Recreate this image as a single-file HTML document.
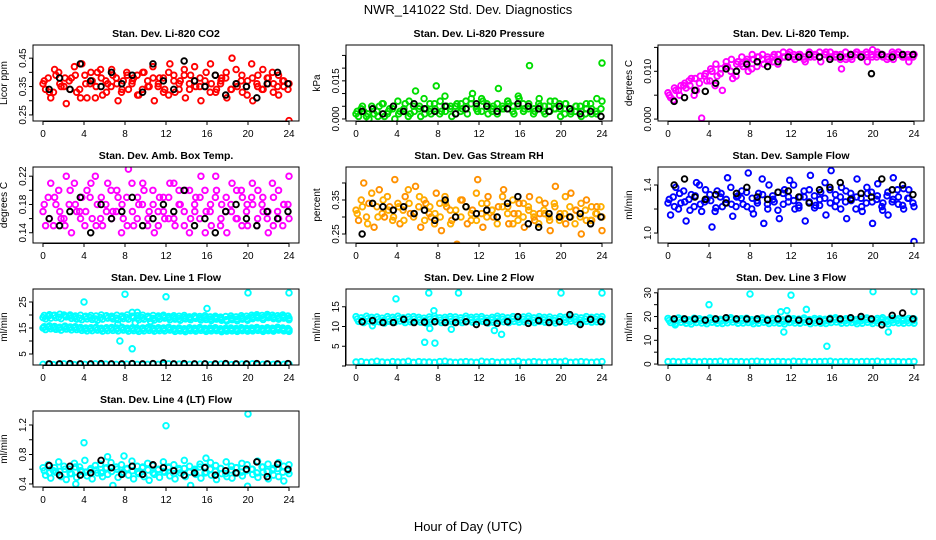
<!DOCTYPE html>
<html><head><meta charset="utf-8"><style>
body{margin:0;background:#fff;}
svg{display:block;font-family:"Liberation Sans",sans-serif;}
</style></head><body>
<svg id="c" width="936" height="540" viewBox="0 0 936 540">
<text x="468" y="14" text-anchor="middle" font-size="13">NWR_141022  Std. Dev. Diagnostics</text>
<text x="468" y="531" text-anchor="middle" font-size="13">Hour of Day (UTC)</text>
</svg>
<script>
const hourTicks=[0,4,8,12,16,20,24];
const low=[1.0,1.1,0.9,1.0,1.2,1.0,0.9,1.1,1.0,1.0,1.2,0.9,1.1,1.0,1.0,0.9,1.1,1.2,1.0,0.9,1.0,1.1,1.0,0.9,1.2,1.0,1.1,0.9,1.0,1.0,1.1,1.2,0.9,1.0,1.1,1.0,0.9,1.0,1.1,1.0,1.2,0.9,1.0,1.1,1.0,0.9,1.0,1.1];
// Panel 1 CO2
const co2A=[0.36,0.38,0.33,0.40,0.35,0.37,0.42,0.34,0.39,0.36,0.31,0.41,0.37,0.35,0.38,0.33,0.40,0.36,0.39,0.34,0.37,0.42,0.35,0.38,0.32,0.39,0.36,0.41,0.34,0.37,0.38,0.35,0.43,0.33,0.37,0.40,0.34,0.36,0.39,0.32,0.38,0.35,0.41,0.36,0.33,0.39,0.37,0.36];
const co2B=[0.34,0.31,0.39,0.35,0.29,0.38,0.33,0.43,0.31,0.37,0.40,0.32,0.36,0.39,0.30,0.37,0.34,0.38,0.32,0.40,0.35,0.30,0.38,0.34,0.43,0.33,0.37,0.31,0.39,0.35,0.30,0.40,0.36,0.34,0.38,0.31,0.45,0.35,0.33,0.37,0.30,0.39,0.34,0.38,0.36,0.32,0.35,0.23];
const co2C=[0.37,0.33,0.41,0.36,0.38,0.34,0.39,0.31,0.36,0.40,0.35,0.38,0.33,0.41,0.36,0.34,0.39,0.37,0.32,0.40,0.35,0.38,0.36,0.33,0.40,0.37,0.34,0.39,0.36,0.42,0.35,0.37,0.33,0.39,0.36,0.38,0.34,0.41,0.37,0.35,0.43,0.36,0.34,0.38,0.40,0.35,0.37,0.34];
const co2Black=[0.34,0.38,0.34,0.43,0.37,0.35,0.40,0.36,0.39,0.33,0.43,0.37,0.34,0.44,0.37,0.35,0.39,0.32,0.36,0.35,0.31,0.36,0.40,0.36];
// Panel 2 pressure
const prA=[0.002,0.004,0.001,0.005,0.003,0.006,0.002,0.004,0.007,0.003,0.001,0.005,0.004,0.008,0.003,0.006,0.002,0.009,0.004,0.005,0.003,0.007,0.006,0.004,0.008,0.005,0.003,0.006,0.004,0.007,0.005,0.009,0.003,0.006,0.004,0.008,0.005,0.003,0.007,0.004,0.006,0.002,0.005,0.003,0.006,0.004,0.002,0.007];
const prB=[0.001,0.003,0.000,0.002,0.005,0.001,0.004,0.000,0.003,0.006,0.002,0.011,0.001,0.004,0.002,0.013,0.003,0.005,0.001,0.006,0.004,0.002,0.010,0.003,0.007,0.002,0.005,0.012,0.004,0.006,0.002,0.008,0.004,0.021,0.003,0.005,0.002,0.007,0.004,0.001,0.006,0.003,0.005,0.001,0.004,0.002,0.008,0.022];
const prC=[0.003,0.005,0.002,0.004,0.001,0.006,0.003,0.005,0.002,0.004,0.007,0.003,0.005,0.002,0.006,0.004,0.007,0.003,0.005,0.002,0.006,0.004,0.008,0.005,0.003,0.006,0.004,0.002,0.005,0.007,0.003,0.005,0.006,0.004,0.002,0.006,0.003,0.005,0.004,0.006,0.002,0.004,0.003,0.005,0.002,0.006,0.003,0.004];
const prBlack=[0.003,0.004,0.002,0.005,0.003,0.006,0.004,0.003,0.005,0.002,0.004,0.006,0.005,0.003,0.004,0.006,0.005,0.004,0.003,0.005,0.004,0.002,0.003,0.001];
// Panel 3 temp
const tmA=[0.0055,0.004,0.006,0.007,0.008,0.005,0.0075,0.009,0.008,0.007,0.0095,0.011,0.010,0.009,0.0115,0.012,0.0105,0.011,0.0125,0.013,0.012,0.0115,0.013,0.0135,0.013,0.0135,0.013,0.014,0.0135,0.013,0.0135,0.014,0.013,0.0135,0.0125,0.0135,0.014,0.013,0.0135,0.013,0.014,0.0135,0.013,0.0135,0.014,0.0135,0.013,0.0135];
const tmB=[0.0045,0.006,0.007,0.0065,0.0085,0.006,0.0002,0.008,0.010,0.009,0.006,0.011,0.0085,0.012,0.011,0.010,0.0125,0.013,0.0115,0.012,0.0135,0.0125,0.013,0.014,0.0125,0.0135,0.012,0.013,0.0135,0.012,0.014,0.013,0.0135,0.0105,0.013,0.0125,0.014,0.0135,0.012,0.0145,0.0135,0.013,0.013,0.0125,0.014,0.013,0.012,0.0135];
const tmC=[0.005,0.0065,0.005,0.0075,0.007,0.0085,0.009,0.0095,0.0105,0.0115,0.0105,0.012,0.0125,0.0115,0.013,0.0125,0.0135,0.013,0.0135,0.0125,0.013,0.0135,0.014,0.013,0.0135,0.013,0.0125,0.0135,0.013,0.014,0.0135,0.013,0.0135,0.0125,0.014,0.013,0.0135,0.013,0.014,0.0135,0.013,0.0135,0.0125,0.014,0.0135,0.013,0.0135,0.013];
const tmBlack=[0.0037,0.0045,0.006,0.0058,0.0075,0.0105,0.010,0.0115,0.012,0.011,0.012,0.013,0.013,0.0135,0.013,0.0125,0.013,0.0135,0.013,0.0095,0.0135,0.013,0.0135,0.0135];
// Panel 4 ambient
const abA=[0.17,0.19,0.15,0.20,0.16,0.18,0.21,0.17,0.15,0.19,0.22,0.16,0.18,0.20,0.17,0.14,0.19,0.21,0.16,0.18,0.15,0.20,0.17,0.19,0.16,0.21,0.18,0.15,0.20,0.17,0.19,0.14,0.18,0.22,0.16,0.19,0.17,0.20,0.15,0.18,0.21,0.16,0.19,0.17,0.15,0.20,0.18,0.16];
const abB=[0.15,0.21,0.18,0.16,0.22,0.14,0.17,0.19,0.20,0.16,0.18,0.15,0.21,0.17,0.19,0.16,0.23,0.15,0.18,0.20,0.17,0.14,0.19,0.16,0.21,0.15,0.18,0.20,0.16,0.19,0.22,0.17,0.15,0.20,0.18,0.14,0.21,0.16,0.19,0.15,0.18,0.20,0.17,0.14,0.19,0.16,0.18,0.22];
const abC=[0.18,0.16,0.19,0.17,0.15,0.20,0.18,0.16,0.17,0.21,0.15,0.19,0.17,0.16,0.20,0.18,0.15,0.17,0.19,0.21,0.16,0.18,0.15,0.17,0.19,0.16,0.20,0.17,0.14,0.18,0.16,0.20,0.17,0.19,0.15,0.17,0.18,0.16,0.20,0.17,0.19,0.15,0.18,0.16,0.21,0.17,0.15,0.18];
const abBlack=[0.16,0.15,0.17,0.19,0.14,0.18,0.16,0.17,0.19,0.15,0.16,0.18,0.17,0.20,0.15,0.16,0.14,0.17,0.18,0.16,0.15,0.17,0.16,0.17];
// Panel 5 RH
const rhA=[0.32,0.35,0.30,0.37,0.33,0.31,0.36,0.29,0.34,0.32,0.38,0.30,0.33,0.35,0.31,0.28,0.34,0.36,0.32,0.30,0.35,0.33,0.29,0.37,0.31,0.34,0.32,0.30,0.36,0.33,0.28,0.31,0.34,0.32,0.30,0.35,0.31,0.29,0.33,0.31,0.36,0.30,0.32,0.34,0.29,0.33,0.31,0.30];
const rhB=[0.29,0.40,0.34,0.27,0.38,0.30,0.33,0.41,0.28,0.36,0.31,0.39,0.27,0.34,0.30,0.37,0.26,0.33,0.29,0.22,0.35,0.28,0.32,0.41,0.27,0.36,0.30,0.33,0.38,0.28,0.31,0.34,0.27,0.36,0.29,0.31,0.34,0.26,0.39,0.30,0.28,0.37,0.32,0.25,0.35,0.29,0.33,0.26];
const rhC=[0.31,0.33,0.28,0.34,0.30,0.35,0.32,0.30,0.33,0.29,0.34,0.31,0.36,0.29,0.33,0.31,0.30,0.34,0.28,0.32,0.30,0.33,0.31,0.29,0.34,0.30,0.32,0.28,0.33,0.31,0.35,0.29,0.30,0.33,0.31,0.28,0.32,0.30,0.34,0.29,0.31,0.33,0.28,0.30,0.32,0.29,0.31,0.33];
const rhBlack=[0.25,0.34,0.33,0.32,0.33,0.31,0.32,0.29,0.35,0.30,0.33,0.31,0.32,0.30,0.34,0.36,0.28,0.27,0.31,0.30,0.30,0.31,0.28,0.30];
// Panel 6 sample flow
const sfA=[1.25,1.30,1.20,1.35,1.28,1.22,1.40,1.26,1.32,1.18,1.30,1.25,1.38,1.22,1.29,1.34,1.20,1.27,1.45,1.24,1.31,1.19,1.33,1.26,1.40,1.23,1.30,1.36,1.21,1.28,1.42,1.25,1.32,1.20,1.35,1.27,1.30,1.22,1.38,1.26,1.31,1.19,1.34,1.28,1.24,1.37,1.29,1.22];
const sfB=[1.15,1.38,1.25,1.10,1.32,1.42,1.18,1.28,1.05,1.35,1.22,1.46,1.14,1.31,1.24,1.50,1.16,1.33,1.08,1.40,1.26,1.12,1.36,1.44,1.20,1.30,1.10,1.48,1.23,1.34,1.15,1.52,1.27,1.38,1.12,1.29,1.45,1.18,1.33,1.08,1.41,1.25,1.15,1.46,1.30,1.20,1.36,0.93];
const sfC=[1.28,1.22,1.33,1.26,1.19,1.31,1.24,1.36,1.27,1.21,1.33,1.28,1.24,1.30,1.35,1.22,1.29,1.25,1.32,1.20,1.28,1.34,1.24,1.30,1.27,1.21,1.35,1.26,1.31,1.23,1.29,1.36,1.22,1.30,1.26,1.33,1.20,1.29,1.25,1.34,1.28,1.22,1.31,1.26,1.36,1.23,1.29,1.25];
const sfBlack=[1.40,1.45,1.30,1.28,1.32,1.25,1.33,1.38,1.30,1.28,1.34,1.35,1.30,1.25,1.36,1.38,1.42,1.28,1.33,1.30,1.45,1.36,1.40,1.32];
// Panel 7 line 1
const l1UpA=[19,19.5,19.8,19.2,20,19.5,19,18.8,19.2,19,18.5,19,19.5,19,18.8,19.2,19,19.5,18.8,19,19.3,18.7,19,19.4,18.9,19,18.6,19.1,18.8,19.3,18.7,19,18.5,19,18.6,18.2,18.8,18.4,19,18.6,19.2,19.5,19,19.6,19.2,19,19.4,18.8];
const l1UpB=[18.5,18.8,19,18.6,19.3,18.7,18.4,18.2,18.5,18.3,18,18.4,18.8,18.5,18.2,18.6,18.4,18.9,18.2,18.4,18.7,18.1,18.4,18.8,18.2,18.4,18,18.5,18.2,18.7,18.1,18.3,17.9,18.4,18,17.7,18.2,17.8,18.4,18,18.6,18.9,18.3,19,18.6,18.4,18.8,18.2];
const l1UpC=[19.8,20.1,19.9,20.3,19.7,20,19.6,19.9,19.5,19.8,19.6,20,19.7,19.5,19.9,19.6,20,19.4,19.7,19.9,19.5,19.8,19.6,19.9,19.4,19.7,19.5,19.8,19.3,19.6,19.4,19.7,19.3,19.5,19.2,19.4,19.6,19.3,19.7,19.5,19.9,20.1,19.8,20.2,19.9,19.7,20,19.6];
const l1MidA=[15,15.3,15.1,14.8,15.2,14.9,15,14.7,14.5,14.6,14.8,14.4,14.6,14.7,14.5,14.8,14.4,14.6,14.3,14.5,14.7,14.4,14.6,14.5,14.8,14.3,14.5,14.2,14.6,14.4,14.7,14.3,14.5,14.6,14.2,14.4,14.5,14.3,14.6,14.4,14.5,14.7,14.3,14.6,14.4,14.8,14.5,14.3];
const l1MidB=[14.4,14.7,14.5,14.2,14.6,14.3,14.4,14.1,13.9,14,14.2,13.8,14,14.1,13.9,14.2,13.8,14,13.7,13.9,14.1,13.8,14,13.9,14.2,13.7,13.9,13.6,14,13.8,14.1,13.7,13.9,14,13.6,13.8,13.9,13.7,14,13.8,13.9,14.1,13.7,14,13.8,14.2,13.9,13.7];
const l1MidC=[15.5,15.8,15.6,15.3,15.7,15.4,15.5,15.2,15,15.1,15.3,14.9,15.1,15.2,15,15.3,14.9,15.1,14.8,15,15.2,14.9,15.1,15,15.3,14.8,15,14.7,15.1,14.9,15.2,14.8,15,15.1,14.7,14.9,15,14.8,15.1,14.9,15,15.2,14.8,15.1,14.9,15.3,15,14.8];
const l1OutHours=[4,8,7.5,8.7,12,16,20,24,8.7,9.2,7.3,9,10.5];
const l1OutVals=[25,28,10,7,27,22.5,28.5,28.5,21,21,16.5,17,17.5];
const l1Black=[1.2,1.2,1.3,1.2,1.2,1.3,1.2,1.2,1.3,1.2,1.3,1.6,1.2,1.3,1.2,1.2,1.2,1.3,1.2,1.2,1.3,1.2,1.2,1.3];
// Panel 8 line 2
const l2A=[12.5,12.2,12.6,12.3,12.4,12.1,12.5,12.3,12.6,12.2,12.4,12.5,12.3,12.1,12.4,12.6,12.2,12.3,12.5,12.4,12.2,12.6,12.3,12.4,12.5,12.1,12.3,12.6,12.4,12.2,12.5,12.3,12.4,12.6,12.2,12.5,12.3,12.4,12.1,12.5,12.3,12.6,12.4,12.2,12.5,12.3,12.4,12.5];
const l2B=[11.3,11.0,11.4,11.1,11.2,10.9,11.3,11.1,11.4,11.0,11.2,11.3,11.1,10.9,11.2,11.4,11.0,11.1,11.3,11.2,11.0,11.4,11.1,11.2,11.3,10.9,11.1,11.4,11.2,11.0,11.3,11.1,11.2,11.4,11.0,11.3,11.1,11.2,10.9,11.3,11.1,11.4,11.2,11.0,11.3,11.1,11.2,11.3];
const l2C=[11.9,11.6,12,11.7,11.8,11.5,11.9,11.7,12,11.6,11.8,11.9,11.7,11.5,11.8,12,11.6,11.7,11.9,11.8,11.6,12,11.7,11.8,11.9,11.5,11.7,12,11.8,11.6,11.9,11.7,11.8,12,11.6,11.9,11.7,11.8,11.5,11.9,11.7,12,11.8,11.6,11.9,11.7,11.8,11.9];
const l2Low=[1.0,1.1,0.9,1.0,1.2,1.0,0.9,1.1,1.0,1.0,1.2,0.9,1.1,1.0,1.0,0.9,1.1,1.2,1.0,0.9,1.0,1.1,1.0,0.9,1.2,1.0,1.1,0.9,1.0,1.0,1.1,1.2,0.9,1.0,1.1,1.0,0.9,1.0,1.1,1.0,1.2,0.9,1.0,1.1,1.0,0.9,1.0,1.1];
const l2OutHours=[3.9,6.7,7.1,7.2,7.7,7.6,10,13.5,14.2,20,24,1.6,9.3];
const l2OutVals=[17,6,18.5,9.5,5.8,14,18.5,9,8,18.5,18.5,10.2,9.3];
const l2Black=[11.2,11.5,11,11,11.8,11,11.1,11.2,11,11,11.2,10.5,11,10.8,11.2,12.5,10.8,11.5,11,11.2,13,10.5,11.8,11.2];
// Panel 9 line 3
const l3A=[19.2,18.8,19.4,19,18.6,19.3,19.1,18.7,19.4,19,18.8,19.2,19.5,18.9,19.1,19.3,18.7,19,19.4,18.8,19.2,19,18.6,19.3,19.1,18.9,19.4,18.7,19.2,19,18.8,19.3,19.5,18.9,19.1,19.3,18.7,19,19.4,18.8,19.2,19.5,18.6,19.3,19.1,18.9,19.2,19];
const l3B=[17.5,17.1,17.6,17.2,16.9,17.5,17.3,17,17.6,17.2,17.1,17.4,17.7,17.2,17.3,17.5,17,17.2,17.6,17.1,17.4,17.2,16.9,17.5,17.3,17.2,17.6,17,17.4,17.2,17.1,17.5,17.7,17.2,17.3,17.5,17,17.2,17.6,17.1,17.4,17.7,16.9,17.5,17.3,17.2,17.4,17.2];
const l3C=[18.4,18,18.6,18.2,17.9,18.5,18.3,18,18.6,18.2,18.1,18.4,18.7,18.2,18.3,18.5,18,18.2,18.6,18.1,18.4,18.2,17.9,18.5,18.3,18.2,18.6,18,18.4,18.2,18.1,18.5,18.7,18.2,18.3,18.5,18,18.2,18.6,18.1,18.4,18.7,17.9,18.5,18.3,18.2,18.4,18.2];
const l3Low=[1.0,1.1,0.9,1.0,1.2,1.0,0.9,1.1,1.0,1.0,1.2,0.9,1.1,1.0,1.0,0.9,1.1,1.2,1.0,0.9,1.0,1.1,1.0,0.9,1.2,1.0,1.1,0.9,1.0,1.0,1.1,1.2,0.9,1.0,1.1,1.0,0.9,1.0,1.1,1.0,1.2,0.9,1.0,1.1,1.0,0.9,1.0,1.1];
const l3OutHours=[4,8,12,11,11.3,15.5,20,24,13.5,21.5,11.6,0.7];
const l3OutVals=[25,29.5,29,22,13.5,7.5,30.5,30.5,23,13.5,22.5,16.5];
const l3Black=[19,19,19,18.5,19,19.5,19,19,19,18.5,19,19,18.5,18,18,19,19,19.5,20,19,16.5,20.5,21.5,19];
// Panel 10 line 4
const l4A=[0.62,0.66,0.58,0.70,0.64,0.60,0.68,0.63,0.72,0.59,0.65,0.67,0.61,0.69,0.63,0.66,0.60,0.71,0.64,0.62,0.68,0.65,0.59,0.70,0.63,0.66,0.61,0.72,0.64,0.60,0.67,0.63,0.69,0.65,0.61,0.70,0.64,0.62,0.68,0.66,0.60,0.71,0.63,0.67,0.61,0.69,0.64,0.66];
const l4B=[0.52,0.48,0.56,0.50,0.46,0.54,0.49,0.57,0.51,0.47,0.55,0.50,0.53,0.38,0.49,0.56,0.52,0.47,0.54,0.50,0.45,0.53,0.49,0.56,0.51,0.47,0.55,0.50,0.38,0.53,0.48,0.56,0.52,0.46,0.54,0.50,0.48,0.55,0.51,0.37,0.53,0.49,0.56,0.47,0.52,0.50,0.44,0.54];
const l4C=[0.58,0.55,0.62,0.57,0.60,0.54,0.63,0.58,0.56,0.61,0.59,0.55,0.62,0.57,0.60,0.54,0.61,0.58,0.56,0.63,0.59,0.55,0.60,0.57,0.62,0.54,0.59,0.61,0.56,0.58,0.63,0.55,0.60,0.57,0.61,0.54,0.59,0.62,0.56,0.58,0.60,0.55,0.63,0.57,0.59,0.61,0.56,0.58];
const l4OutHours=[4,12,20,3.2,6.3,7.9,15.9];
const l4OutVals=[0.96,1.19,1.35,0.40,0.77,0.78,0.75];
const l4Black=[0.65,0.52,0.64,0.52,0.55,0.72,0.62,0.53,0.64,0.53,0.66,0.62,0.58,0.52,0.55,0.62,0.52,0.58,0.55,0.60,0.70,0.50,0.67,0.60];

const NS='http://www.w3.org/2000/svg';
const svg=document.getElementById('c');
function mk(tag,attrs,parent){const e=document.createElementNS(NS,tag);for(const k in attrs)e.setAttribute(k,attrs[k]);(parent||svg).appendChild(e);return e;}
const colX=[43,356,668], rowTop=[45,167,289,411], boxH=76;

function panel(o){
  const x0=colX[o.col], top=rowTop[o.row], bot=top+boxH, left=x0-10, right=x0+256;
  const g=mk('g',{});
  
  
  const sx=h=>x0+h*246/24;
  const sy=v=>bot-(v-o.ymin)/(o.ymax-o.ymin)*boxH;
  const t=mk('text',{x:(left+right)/2,y:top-8,'text-anchor':'middle','font-size':10.5,'font-weight':'bold'},g);
  t.textContent=o.title;
  
  
  const yl=mk('text',{transform:`translate(${left-26},${(top+bot)/2}) rotate(-90)`,'text-anchor':'middle','font-size':10},g);
  yl.textContent=o.ylab;
  
  
  hourTicks.forEach(h=>{
    mk('line',{x1:sx(h),x2:sx(h),y1:bot,y2:bot+4,stroke:'#000'},g);
    const tx=mk('text',{x:sx(h),y:bot+16,'text-anchor':'middle','font-size':10},g);
    tx.textContent=h;
    
    
  });
  mk('line',{x1:sx(0),x2:sx(24),y1:bot+0.5,y2:bot+0.5,stroke:'#000'},g);
  o.yticks.forEach((v,i)=>{
    const y=sy(v);
    mk('line',{x1:left-4,x2:left,y1:y,y2:y,stroke:'#000'},g);
    if(o.ylabels[i]){
      const tl=mk('text',{transform:`translate(${left-7},${y}) rotate(-90)`,'text-anchor':'middle','font-size':10},g);
      tl.textContent=o.ylabels[i];
      
      
    }
  });
  mk('line',{x1:left-0.5,x2:left-0.5,y1:sy(o.yticks[0]),y2:sy(o.yticks[o.yticks.length-1]),stroke:'#000'},g);
  const clip='clip'+o.col+o.row;
  const cp=mk('clipPath',{id:clip},g); mk('rect',{x:left,y:top,width:right-left,height:boxH},cp);
  const pg=mk('g',{'clip-path':`url(#${clip})`},g);
  o.series.forEach(s=>{
    const n=s.vals.length;
    s.vals.forEach((v,i)=>{
      const h=s.hours?s.hours[i]:(s.h0+(s.h1-s.h0)*i/(n-1));
      const c=mk('circle',{cx:sx(h),cy:sy(v),r:2.8,fill:'none',stroke:s.color,'stroke-width':1.9},pg);
      
      
    });
  });
  mk('rect',{x:left,y:top,width:right-left,height:boxH,fill:'none',stroke:'#000','stroke-width':1},g);
}
const S=(name,vals,color,h0,h1)=>({name,vals,color,h0:h0,h1:h1});
panel({name:'panel-co2',col:0,row:0,title:'Stan. Dev. Li-820 CO2',ylab:'Licor ppm',ymin:0.2286,ymax:0.4964,yticks:[0.25,0.30,0.35,0.40,0.45],ylabels:['0.25','','0.35','','0.45'],
 series:[S('co2-point',co2A,'#ff0000',0,24),S('co2-point',co2B,'#ff0000',0.25,24),S('co2-point',co2C,'#ff0000',0.12,23.9),S('co2-sample-point',co2Black,'#000',0.6,23.9)]});
panel({name:'panel-pressure',col:1,row:0,title:'Stan. Dev. Li-820 Pressure',ylab:'kPa',ymin:-0.0008,ymax:0.0291,yticks:[0,0.005,0.010,0.015,0.020,0.025],ylabels:['0.000','','','0.015','',''],
 series:[S('pressure-point',prA,'#00dd00',0,24),S('pressure-point',prB,'#00dd00',0.25,24),S('pressure-point',prC,'#00dd00',0.12,23.9),S('pressure-sample-point',prBlack,'#000',0.6,23.9)]});
panel({name:'panel-temp',col:2,row:0,title:'Stan. Dev. Li-820 Temp.',ylab:'degrees C',ymin:-0.0004,ymax:0.0155,yticks:[0,0.005,0.010,0.015],ylabels:['0.000','','0.010',''],
 series:[S('temp-point',tmA,'#ff00ff',0,24),S('temp-point',tmB,'#ff00ff',0.25,24),S('temp-point',tmC,'#ff00ff',0.12,23.9),S('temp-sample-point',tmBlack,'#000',0.6,23.9)]});
panel({name:'panel-ambient',col:0,row:1,title:'Stan. Dev. Amb. Box Temp.',ylab:'degrees C',ymin:0.1255,ymax:0.233,yticks:[0.14,0.16,0.18,0.20,0.22],ylabels:['0.14','','0.18','','0.22'],
 series:[S('ambient-point',abA,'#ff00ff',0,24),S('ambient-point',abB,'#ff00ff',0.25,24),S('ambient-point',abC,'#ff00ff',0.12,23.9),S('ambient-sample-point',abBlack,'#000',0.6,23.9)]});
panel({name:'panel-rh',col:1,row:1,title:'Stan. Dev. Gas Stream RH',ylab:'percent',ymin:0.2235,ymax:0.447,yticks:[0.25,0.30,0.35,0.40],ylabels:['0.25','','0.35',''],
 series:[S('rh-point',rhA,'#ffa500',0,24),S('rh-point',rhB,'#ff9000',0.25,24),S('rh-point',rhC,'#ffb000',0.12,23.9),S('rh-sample-point',rhBlack,'#000',0.6,23.9)]});
panel({name:'panel-sample-flow',col:2,row:1,title:'Stan. Dev. Sample Flow',ylab:'ml/min',ymin:0.917,ymax:1.55,yticks:[1.0,1.2,1.4],ylabels:['1.0','','1.4'],
 series:[S('flow-point',sfA,'#0000ff',0,24),S('flow-point',sfB,'#0000ff',0.25,24),S('flow-point',sfC,'#0000ff',0.12,23.9),S('flow-sample-point',sfBlack,'#000',0.6,23.9)]});
panel({name:'panel-line1',col:0,row:2,title:'Stan. Dev. Line 1 Flow',ylab:'ml/min',ymin:0.77,ymax:30,yticks:[5,10,15,20,25],ylabels:['5','','15','','25'],
 series:[S('line1-point',l1UpA,'#00ffff',0,24),S('line1-point',l1UpB,'#00ffff',0.25,24),S('line1-point',l1UpC,'#00ffff',0.12,23.9),S('line1-point',l1MidA,'#00ffff',0,24),S('line1-point',l1MidB,'#00ffff',0.25,24),S('line1-point',l1MidC,'#00ffff',0.12,23.9),S('line1-point',low,'#00ffff',0,24),
 {name:'line1-outlier',vals:l1OutVals,hours:l1OutHours,color:'#00ffff'},S('line1-sample-point',l1Black,'#000',0.6,23.9)]});
panel({name:'panel-line2',col:1,row:2,title:'Stan. Dev. Line 2 Flow',ylab:'ml/min',ymin:0.25,ymax:19.5,yticks:[0,5,10,15],ylabels:['','5','10','15'],
 series:[S('line2-point',l2A,'#00ffff',0,24),S('line2-point',l2B,'#00ffff',0.25,24),S('line2-point',l2C,'#00ffff',0.12,23.9),S('line2-point',l2Low,'#00ffff',0,24),
 {name:'line2-outlier',vals:l2OutVals,hours:l2OutHours,color:'#00ffff'},S('line2-sample-point',l2Black,'#000',0.6,23.9)]});
panel({name:'panel-line3',col:2,row:2,title:'Stan. Dev. Line 3 Flow',ylab:'ml/min',ymin:-0.4,ymax:31.6,yticks:[0,5,10,15,20,25,30],ylabels:['0','','10','','20','','30'],
 series:[S('line3-point',l3A,'#00ffff',0,24),S('line3-point',l3B,'#00ffff',0.25,24),S('line3-point',l3C,'#00ffff',0.12,23.9),S('line3-point',l3Low,'#00ffff',0,24),
 {name:'line3-outlier',vals:l3OutVals,hours:l3OutHours,color:'#00ffff'},S('line3-sample-point',l3Black,'#000',0.6,23.9)]});
panel({name:'panel-line4',col:0,row:3,title:'Stan. Dev. Line 4 (LT) Flow',ylab:'ml/min',ymin:0.359,ymax:1.39,yticks:[0.4,0.6,0.8,1.0,1.2],ylabels:['0.4','','0.8','','1.2'],
 series:[S('line4-point',l4A,'#00ffff',0,24),S('line4-point',l4B,'#00ffff',0.25,24),S('line4-point',l4C,'#00ffff',0.12,23.9),
 {name:'line4-outlier',vals:l4OutVals,hours:l4OutHours,color:'#00ffff'},S('line4-sample-point',l4Black,'#000',0.6,23.9)]});
</script>
</body></html>
